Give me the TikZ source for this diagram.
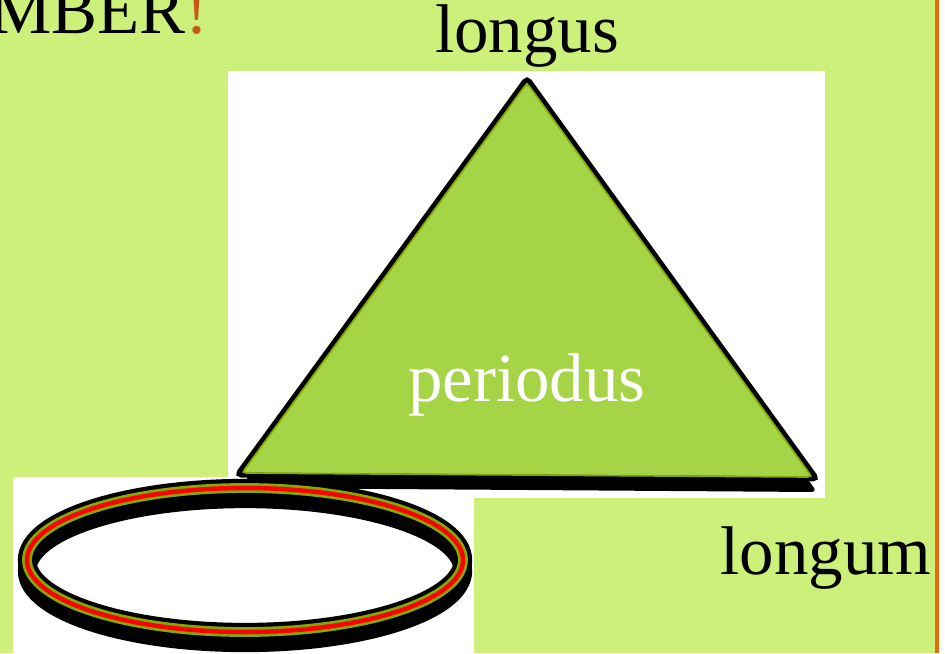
\documentclass[tikz,border=0pt]{standalone}
\usepackage{fontspec}
\setmainfont{Liberation Serif}
\usetikzlibrary{positioning,calc}

\definecolor{slidebg}{RGB}{204,240,122}
\definecolor{trifill}{RGB}{165,212,70}
\definecolor{rimgreen}{RGB}{130,170,0}
\definecolor{bangorange}{RGB}{197,90,17}
\definecolor{edgeorange}{RGB}{228,108,10}

\begin{document}
\begin{tikzpicture}[
  x=0.025cm, y=-0.025cm,
  word/.style={font=\fontsize{49}{56}\selectfont, inner sep=0pt, anchor=base},
  panel/.style={fill=white, draw=none},
  ring/.style={line width=#1}
]
\useasboundingbox (0,0) rectangle (945,653);
\fill[white] (0,0) rectangle (945,653);
\fill[slidebg] (0,0) rectangle (937,653);
\draw[edgeorange, line width=2.2] (937,0) -- (937,653);

% picture panels
\fill[panel] (228,71) rectangle (825,498);
\fill[panel] (13,477) rectangle (474,653);

% triangle with drop shadow
\coordinate (apex) at (527,78);
\coordinate (left) at (237,475);
\coordinate (right) at (817,479);
\fill[black, rounded corners=4] ($(apex)+(0,13)$) -- ($(left)+(3,13)$) -- ($(right)+(0,13)$) -- cycle;
\filldraw[fill=trifill, draw=black, line width=3.5, rounded corners=3] (apex) -- (left) -- (right) -- cycle;
\draw[rimgreen, line width=1.2, rounded corners=3] ($(apex)+(0,5)$) -- ($(left)+(5,-2)$) -- ($(right)+(-5,-2)$) -- cycle;

% ring with drop shadow
\coordinate (ringc) at (245,560);
\draw[black, ring=13] ($(ringc)+(0,11)$) ellipse [x radius=218, y radius=72];
\draw[black, ring=13] (ringc) ellipse [x radius=218, y radius=72];
\draw[rimgreen, ring=7] (ringc) ellipse [x radius=218, y radius=72];
\draw[red, ring=3.2] (ringc) ellipse [x radius=218, y radius=72];

% labels
\node[word, anchor=base east] (remember) at (209,33) {MBER\textcolor{bangorange}{!}};
\node[word] (longus) at (527,52) {longus};
\node[word, text=white] (periodus) at (527,401) {periodus};
\node[word] (longum) at (826,574) {longum};

\end{tikzpicture}
\end{document}
